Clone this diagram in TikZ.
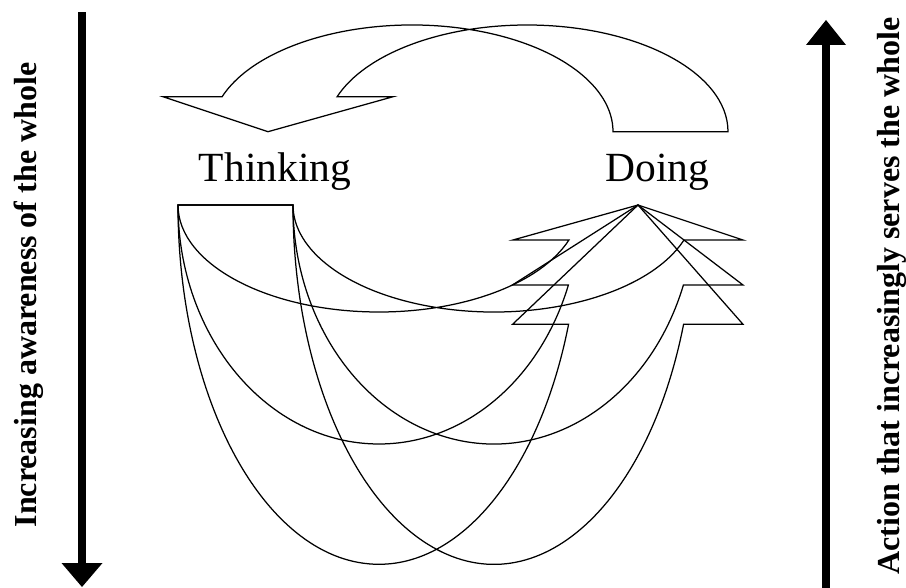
\documentclass[tikz,border=0pt]{standalone}
\usepackage{fontspec}
\setmainfont{Liberation Serif}
\newcommand{\curvedArrowPath}[2]{%
  \pgfmathsetmacro{\tang}{asin(#2/#1)}%
  \pgfmathsetmacro{\cosv}{cos(\tang)}%
  \draw[shapeline] (115,0) -- (0,0)
    arc[start angle=180, end angle=\tang, x radius=201, y radius=#1]
    -- ++(-56,0) -- (460,0) -- (565,#2) -- ({316+201*\cosv},#2)
    arc[start angle=\tang, end angle=180, x radius=201, y radius=#1] -- cycle;
}
\begin{document}
\begin{tikzpicture}[x=1pt,y=-1pt,
  shapeline/.style={line width=1.25pt, line join=miter, black},
  label/.style={inner sep=0pt, font=\fontsize{41.5}{48}\selectfont},
  sidelabel/.style={inner sep=0pt, rotate=90, anchor=base, font=\bfseries\fontsize{32}{38}\selectfont}]
\useasboundingbox (0,0) rectangle (906,588);
\fill[white] (0,0) rectangle (906,588);
% top curved arrow (Doing -> Thinking)
\begin{scope}[shift={(728,131.7)}, rotate=180]
  \curvedArrowPath{106.7}{35}
\end{scope}
% bottom curved arrows (Thinking -> Doing)
\begin{scope}[shift={(178,205)}]
  \curvedArrowPath{107}{35}
  \curvedArrowPath{239}{80}
  \curvedArrowPath{359.3}{119.3}
\end{scope}
% labels
\node[label, anchor=base] (think) at (275,181.5) {Thinking};
\node[label, anchor=base] (doing) at (657.5,181.5) {Doing};
% side arrows
\fill (77.85,12.3) rectangle (86.15,564);
\fill (61.5,563) -- (102.5,563) -- (82,587) -- cycle;
\fill (821.85,44) rectangle (830.15,588);
\fill (806,45) -- (846,45) -- (826,20) -- cycle;
\node[sidelabel] (aware) at (36,295) {Increasing awareness of the whole};
\node[sidelabel] (action) at (899,296) {Action that increasingly serves the whole};
\end{tikzpicture}
\end{document}
